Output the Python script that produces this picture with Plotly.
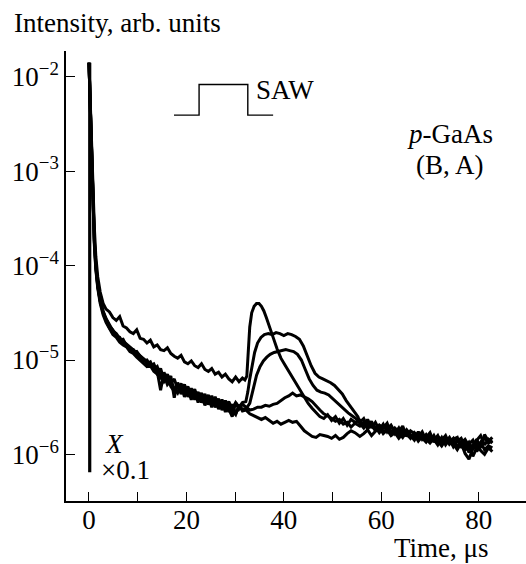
import plotly.graph_objects as go

# ---------------- data (log10 of intensity, arb. units) ----------------
t_early = [0.0, 0.4, 0.8, 1.1, 1.4, 1.8, 2.3, 2.9, 3.5, 4.2, 4.9, 5.6, 6.3, 7.0, 7.7,
           8.4, 9.1, 9.8, 10.5, 11.2, 11.9, 12.6, 13.3, 14.0, 14.7, 15.4, 16.1, 16.8,
           17.5, 18.2, 18.9, 19.6, 20.3, 21.0, 21.7, 22.4, 23.1, 23.8, 24.5, 25.2,
           25.9, 26.6, 27.3, 28.0, 28.7, 29.4, 30.1, 30.8, 31.5]

a_early = [-1.85, -2.50, -3.20, -3.60, -3.90, -4.12, -4.28, -4.40, -4.46, -4.49,
           -4.55, -4.58, -4.54, -4.64, -4.66, -4.70, -4.72, -4.68, -4.77, -4.78,
           -4.82, -4.79, -4.86, -4.84, -4.89, -4.90, -4.87, -4.93, -4.96, -4.98,
           -4.95, -5.02, -5.04, -5.01, -5.06, -5.08, -5.04, -5.10, -5.12, -5.09,
           -5.15, -5.13, -5.18, -5.15, -5.20, -5.23, -5.18, -5.23, -5.19]
b_early = [-1.85, -2.55, -3.30, -3.72, -3.98, -4.20, -4.36, -4.48, -4.56, -4.63,
           -4.69, -4.72, -4.77, -4.80, -4.83, -4.86, -4.90, -4.92, -4.95, -4.98,
           -5.02, -5.05, -5.08, -5.14, -5.09, -5.21, -5.15, -5.25, -5.20, -5.31,
           -5.25, -5.35, -5.28, -5.37, -5.31, -5.42, -5.35, -5.44, -5.37, -5.47,
           -5.39, -5.49, -5.42, -5.51, -5.44, -5.52, -5.45, -5.50, -5.45]
c_early = [-1.85, -2.60, -3.35, -3.75, -4.02, -4.22, -4.38, -4.50, -4.58, -4.66,
           -4.71, -4.75, -4.76, -4.82, -4.84, -4.88, -4.89, -4.94, -4.97, -4.99,
           -5.04, -5.02, -5.10, -5.07, -5.17, -5.23, -5.18, -5.28, -5.33, -5.26,
           -5.36, -5.29, -5.39, -5.33, -5.42, -5.35, -5.45, -5.38, -5.47, -5.41,
           -5.50, -5.43, -5.53, -5.45, -5.55, -5.47, -5.57, -5.49, -5.52]
d_early = [-1.85, -2.58, -3.32, -3.74, -4.00, -4.21, -4.37, -4.49, -4.57, -4.64,
           -4.68, -4.74, -4.79, -4.78, -4.85, -4.87, -4.92, -4.91, -4.96, -5.01,
           -5.00, -5.06, -5.04, -5.12, -5.32, -5.13, -5.23, -5.17, -5.40, -5.24,
           -5.33, -5.26, -5.37, -5.30, -5.40, -5.34, -5.43, -5.36, -5.46, -5.38,
           -5.48, -5.41, -5.50, -5.43, -5.52, -5.60, -5.45, -5.52, -5.47]
e_early = [-1.85, -2.62, -3.38, -3.78, -4.04, -4.24, -4.40, -4.52, -4.60, -4.67,
           -4.73, -4.76, -4.81, -4.84, -4.86, -4.91, -4.93, -4.97, -5.00, -5.03,
           -5.07, -5.06, -5.12, -5.15, -5.19, -5.16, -5.26, -5.22, -5.30, -5.35,
           -5.27, -5.39, -5.31, -5.42, -5.33, -5.45, -5.37, -5.48, -5.39, -5.50,
           -5.42, -5.52, -5.44, -5.55, -5.46, -5.54, -5.58, -5.48, -5.54]

a_mid_t = [32.0, 32.4, 32.7, 33.0, 33.4, 33.9, 34.4, 34.9, 35.4, 35.9, 36.4, 37.0,
           37.8, 38.6, 39.4, 40.2, 41.0, 41.8, 42.6, 43.4, 44.2, 45.0, 45.8, 46.6,
           47.4, 48.2, 49.0, 49.8, 50.6, 51.4, 52.2, 53.0, 53.8, 54.6]
a_mid = [-5.21, -5.17, -4.90, -4.65, -4.50, -4.43, -4.40, -4.40, -4.43, -4.48,
         -4.55, -4.65, -4.76, -4.88, -4.98, -5.05, -5.12, -5.19, -5.26, -5.33,
         -5.40, -5.46, -5.51, -5.55, -5.60, -5.62, -5.58, -5.64, -5.60, -5.67,
         -5.62, -5.69, -5.63, -5.66]

b_mid_t = [32.2, 32.6, 33.0, 33.5, 34.0, 34.6, 35.3, 36.0, 36.8, 37.6, 38.4, 39.2,
           40.0, 40.8, 41.6, 42.4, 43.2, 44.0, 44.8, 45.6, 46.4, 47.2, 48.0, 48.8,
           49.6, 50.4, 51.2, 52.0, 52.8, 53.6, 54.4, 55.2]
b_mid = [-5.44, -5.34, -5.20, -5.05, -4.92, -4.82, -4.76, -4.73, -4.72, -4.73,
         -4.71, -4.72, -4.74, -4.72, -4.73, -4.75, -4.78, -4.85, -4.96, -5.06,
         -5.14, -5.18, -5.20, -5.22, -5.24, -5.27, -5.31, -5.36, -5.43, -5.49,
         -5.55, -5.60]

c_mid_t = [32.2, 33.0, 33.7, 34.4, 35.1, 35.8, 36.5, 37.2, 38.0, 38.8, 39.6, 40.4,
           41.2, 42.0, 42.8, 43.6, 44.4, 45.2, 46.0, 46.8, 47.6, 48.4, 49.2, 50.0,
           50.8, 51.6, 52.4, 53.2, 54.0, 54.8]
c_mid = [-5.52, -5.46, -5.32, -5.16, -5.07, -5.01, -4.97, -4.94, -4.92, -4.91,
         -4.90, -4.89, -4.90, -4.91, -4.94, -5.00, -5.10, -5.20, -5.27, -5.32,
         -5.34, -5.35, -5.37, -5.41, -5.45, -5.48, -5.52, -5.56, -5.59, -5.62]

de_mid_t = [32.2, 33.0, 33.8, 34.6, 35.4, 36.2, 37.0, 37.8, 38.6, 39.4, 40.2, 41.0,
            41.8, 42.6, 43.4, 44.2, 45.0, 45.8, 46.6, 47.4, 48.2, 49.0, 49.8, 50.6,
            51.4, 52.2, 53.0, 53.8, 54.6]
d_mid = [-5.50, -5.53, -5.52, -5.50, -5.50, -5.48, -5.49, -5.47, -5.46, -5.43,
         -5.40, -5.38, -5.35, -5.38, -5.37, -5.39, -5.41, -5.44, -5.49, -5.53,
         -5.57, -5.59, -5.62, -5.65, -5.63, -5.68, -5.66, -5.71, -5.67]
e_mid = [-5.53, -5.57, -5.59, -5.61, -5.63, -5.61, -5.64, -5.67, -5.65, -5.68,
         -5.66, -5.64, -5.66, -5.65, -5.70, -5.75, -5.78, -5.81, -5.82, -5.79,
         -5.80, -5.81, -5.83, -5.80, -5.84, -5.82, -5.78, -5.75, -5.77]

t_tail = [55.6, 56.4, 57.2, 58.0, 58.8, 59.6, 60.4, 61.2, 62.0, 62.8, 63.6, 64.4,
          65.2, 66.0, 66.8, 67.6, 68.4, 69.2, 70.0, 70.8, 71.6, 72.4, 73.2, 74.0,
          74.8, 75.6, 76.4, 77.2, 78.0, 78.8, 79.6, 80.4, 81.2, 82.0, 82.8]
a_tail = [-5.64, -5.70, -5.63, -5.72, -5.66, -5.74, -5.68, -5.76, -5.70, -5.78,
          -5.72, -5.80, -5.74, -5.79, -5.83, -5.76, -5.84, -5.79, -5.86, -5.80,
          -5.88, -5.82, -5.90, -5.84, -5.92, -5.86, -5.83, -5.92, -5.87, -5.95,
          -5.85, -5.80, -5.90, -5.84, -5.88]
b_tail = [-5.66, -5.62, -5.71, -5.65, -5.74, -5.69, -5.72, -5.67, -5.78, -5.72,
          -5.76, -5.70, -5.81, -5.75, -5.78, -5.84, -5.79, -5.82, -5.77, -5.87,
          -5.81, -5.85, -5.80, -5.89, -5.84, -5.82, -5.93, -5.87, -5.98, -5.90,
          -5.84, -5.93, -5.79, -5.86, -5.82]
c_tail = [-5.67, -5.72, -5.66, -5.69, -5.75, -5.70, -5.77, -5.73, -5.69, -5.76,
          -5.81, -5.74, -5.78, -5.83, -5.77, -5.81, -5.76, -5.85, -5.80, -5.84,
          -5.90, -5.83, -5.87, -5.82, -5.89, -5.95, -5.88, -5.84, -5.91, -6.02,
          -5.93, -5.87, -5.95, -5.91, -5.93]
d_tail = [-5.70, -5.66, -5.73, -5.68, -5.71, -5.77, -5.72, -5.70, -5.79, -5.74,
          -5.77, -5.82, -5.76, -5.80, -5.85, -5.78, -5.82, -5.87, -5.81, -5.85,
          -5.80, -5.89, -5.84, -5.87, -5.83, -5.92, -5.86, -5.96, -5.89, -5.85,
          -5.97, -5.90, -5.82, -5.88, -5.85]
e_tail = [-5.81, -5.78, -5.74, -5.80, -5.76, -5.71, -5.78, -5.74, -5.80, -5.77,
          -5.83, -5.78, -5.75, -5.82, -5.79, -5.86, -5.81, -5.84, -5.88, -5.83,
          -5.86, -5.91, -5.85, -5.89, -5.84, -5.93, -5.88, -5.99, -6.05, -5.94,
          -5.89, -5.96, -6.00, -5.93, -5.97]

# "X x0.1" trace: vertical drop at t ~ 0
x_spike_t = [0.15, 0.15]
x_spike = [-1.85, -6.19]

# SAW pulse schematic
saw_pulse_t = [17.45, 22.6, 22.6, 32.6, 32.6, 37.8]
saw_pulse_level = [-2.405, -2.405, -2.08, -2.08, -2.405, -2.405]

y_tick_exp = [-6, -5, -4, -3, -2]
x_tick_vals = [0, 10, 20, 30, 40, 50, 60, 70, 80]
x_tick_text = ["0", "", "20", "", "40", "", "60", "", "80"]

# ---------------- figure ----------------
FONT = "Liberation Serif, Times New Roman, Times, serif"
FS = 27

curves = [
    (a_early, a_mid_t, a_mid, a_tail),
    (b_early, b_mid_t, b_mid, b_tail),
    (c_early, c_mid_t, c_mid, c_tail),
    (d_early, de_mid_t, d_mid, d_tail),
    (e_early, de_mid_t, e_mid, e_tail),
]

fig = go.Figure()
for early, mid_t, mid, tail in curves:
    xs = t_early + mid_t + t_tail
    ys = [10 ** v for v in early + mid + tail]
    fig.add_trace(go.Scatter(x=xs, y=ys, mode="lines",
                             line=dict(color="black", width=3),
                             showlegend=False, hoverinfo="skip"))

fig.add_trace(go.Scatter(x=x_spike_t, y=[10 ** v for v in x_spike], mode="lines",
                         line=dict(color="black", width=3.2),
                         showlegend=False, hoverinfo="skip"))
fig.add_trace(go.Scatter(x=saw_pulse_t, y=[10 ** v for v in saw_pulse_level],
                         mode="lines", line=dict(color="black", width=1.4),
                         showlegend=False, hoverinfo="skip"))

W, H = 526, 564
L, R, T, B = 66, 0, 51, 63
pw, ph = W - L - R, H - T - B


def px(xp):
    return (xp - L) / pw


def py(yp):
    return (H - B - yp) / ph


annots = [
    dict(text="Intensity, arb. units", x=px(12), y=py(22.5), xanchor="left"),
    dict(text="SAW", x=px(254), y=py(90), xanchor="left"),
    dict(text="<i>p</i>-GaAs", x=px(449.5), y=py(133.5), xanchor="center"),
    dict(text="(B, A)", x=px(450.3), y=py(165), xanchor="center"),
    dict(text="<i>X</i>", x=px(114), y=py(443.5), xanchor="center"),
    dict(text="×0.1", x=px(125), y=py(469.5), xanchor="center"),
    dict(text="Time, μs", x=px(491), y=py(548), xanchor="right"),
]
for a in annots:
    fig.add_annotation(xref="paper", yref="paper", yanchor="middle", showarrow=False,
                       font=dict(family=FONT, size=FS, color="black"), **a)

fig.update_layout(
    width=W, height=H,
    margin=dict(l=L, r=R, t=T, b=B, pad=0),
    paper_bgcolor="white", plot_bgcolor="white",
    showlegend=False,
    font=dict(family=FONT, size=FS, color="black"),
)
fig.update_xaxes(
    range=[-4.72, 89.71], showgrid=False, zeroline=False,
    showline=True, linecolor="black", linewidth=1.5,
    ticks="inside", ticklen=9, tickwidth=1.3, tickcolor="black",
    tickvals=x_tick_vals, ticktext=x_tick_text,
    tickfont=dict(family=FONT, size=FS), ticklabelstandoff=-6,
    automargin=False,
)
fig.update_yaxes(
    type="log", range=[-6.494, -1.725], showgrid=False, zeroline=False,
    showline=True, linecolor="black", linewidth=1.5,
    ticks="inside", ticklen=9, tickwidth=1.3, tickcolor="black",
    tickvals=[10 ** e for e in y_tick_exp],
    ticktext=["10<sup>−%d</sup>" % (-e) for e in y_tick_exp],
    tickfont=dict(family=FONT, size=FS),
    automargin=False,
)

fig.write_html("out.html")
